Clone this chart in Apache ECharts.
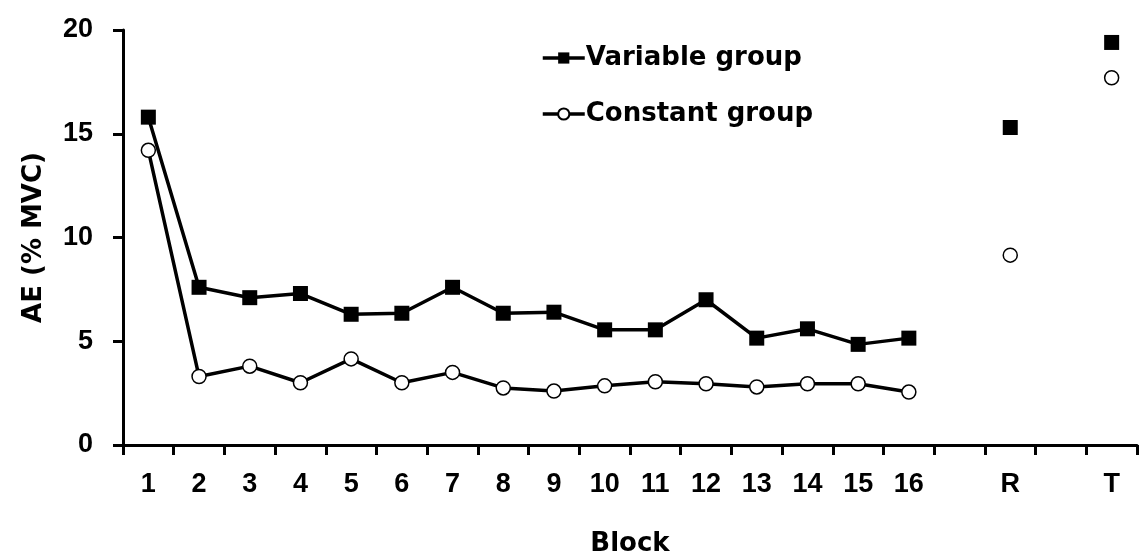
<!DOCTYPE html>
<html>
<head>
<meta charset="utf-8">
<script src="https://cdn.jsdelivr.net/npm/echarts@6/dist/echarts.min.js"></script>
<style>
  html, body { margin: 0; padding: 0; background: #fff; }
  #chart { width: 1141px; height: 558px; }
</style>
</head>
<body>
<div id="chart"></div>
<script>
// Block categories: 16 training blocks, a spacer, retention (R), a spacer, transfer (T)
const blocks = ['1', '2', '3', '4', '5', '6', '7', '8', '9', '10', '11', '12', '13', '14', '15', '16', '', 'R', '', 'T'];

// Absolute error (% MVC) per block
const variableBlocks = [15.8, 7.6, 7.1, 7.3, 6.3, 6.35, 7.6, 6.35, 6.4, 5.55, 5.55, 7.0, 5.15, 5.6, 4.85, 5.15];
const variableRT = [15.3, 19.4];
const constantBlocks = [14.2, 3.3, 3.8, 3.0, 4.15, 3.0, 3.5, 2.75, 2.6, 2.85, 3.05, 2.95, 2.8, 2.95, 2.95, 2.55];
const constantRT = [9.15, 17.7];

// y-axis ticks
const yMin = 0, yMax = 20, yStep = 5;

// R and T are separate tests, so they are not joined to the training curve
function withTests(blockVals, testVals) {
  return blockVals.concat([null, testVals[0], null, testVals[1]]);
}

const tickFont = { fontFamily: 'Liberation Sans, Arial, sans-serif', fontWeight: 'bold', fontSize: 27, color: '#000' };
const titleFont = { fontFamily: 'DejaVu Sans, sans-serif', fontWeight: 'bold', fontSize: 26, color: '#000' };

const chart = echarts.init(document.getElementById('chart'), null, { renderer: 'canvas' });
chart.setOption({
  animation: false,
  backgroundColor: '#fff',
  grid: { left: 123, right: 4, top: 30, bottom: 113, containLabel: false, outerBoundsMode: 'none' },
  legend: {
    orient: 'vertical',
    left: 536,
    top: 40,
    itemGap: 30,
    itemWidth: 42,
    itemHeight: 14,
    lineStyle: { width: 3.5, color: '#000' },
    textStyle: Object.assign({}, titleFont, { padding: [0, 0, 0, -4] }),
    data: ['Variable group', 'Constant group']
  },
  xAxis: {
    type: 'category',
    data: blocks,
    boundaryGap: true,
    name: 'Block',
    nameLocation: 'middle',
    nameGap: 86,
    nameTextStyle: titleFont,
    axisLine: { lineStyle: { color: '#000', width: 3 } },
    axisTick: { show: true, interval: 0, length: 10, lineStyle: { color: '#000', width: 3 } },
    axisLabel: Object.assign({ interval: 0, margin: 26 }, tickFont),
    splitLine: { show: false }
  },
  yAxis: {
    type: 'value',
    min: yMin,
    max: yMax,
    interval: yStep,
    name: 'AE (% MVC)',
    nameLocation: 'middle',
    nameGap: 76,
    nameTextStyle: titleFont,
    axisLine: { show: true, lineStyle: { color: '#000', width: 3 } },
    axisTick: { show: true, length: 10, lineStyle: { color: '#000', width: 3 } },
    axisLabel: Object.assign({ margin: 30 }, tickFont),
    splitLine: { show: false }
  },
  series: [
    {
      name: 'Variable group',
      type: 'line',
      data: withTests(variableBlocks, variableRT),
      connectNulls: false,
      symbol: 'rect',
      symbolSize: 15,
      showAllSymbol: true,
      lineStyle: { color: '#000', width: 3.5 },
      itemStyle: { color: '#000', borderColor: '#000', borderWidth: 0 },
      z: 2
    },
    {
      name: 'Constant group',
      type: 'line',
      data: withTests(constantBlocks, constantRT),
      connectNulls: false,
      symbol: 'circle',
      symbolSize: 14,
      showAllSymbol: true,
      lineStyle: { color: '#000', width: 3.5 },
      itemStyle: { color: '#fff', borderColor: '#000', borderWidth: 1.5 },
      z: 3
    }
  ]
});
</script>
</body>
</html>
